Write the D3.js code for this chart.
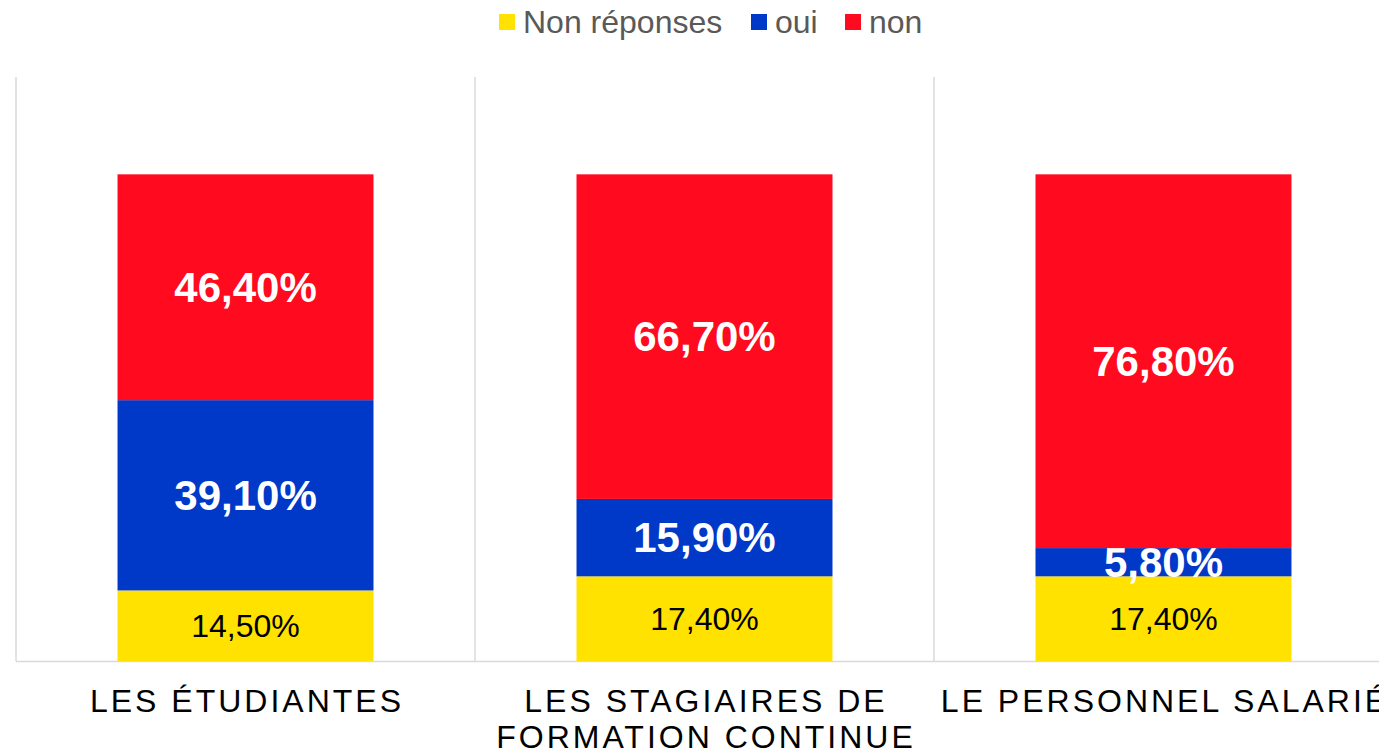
<!DOCTYPE html>
<meta charset="utf-8">
<style>
body { margin: 0; background: #fff; }
svg { display: block; font-family: "Liberation Sans", Arial, sans-serif; }
.grid line { stroke: #d9d9d9; stroke-width: 1.5px; }
.legend text { font-size: 32px; fill: #595959; }
.cat text { font-size: 32px; fill: #000; letter-spacing: 3px; }
</style>
<body>
<script src="https://d3js.org/d3.v7.min.js"></script>
<script>

var categories = ["LES ÉTUDIANTES", "LES STAGIAIRES DE FORMATION CONTINUE", "LE PERSONNEL SALARIÉ"];
var catLines = [["LES ÉTUDIANTES"], ["LES STAGIAIRES DE", "FORMATION CONTINUE"], ["LE PERSONNEL SALARIÉ"]];
var seriesNames = ["Non réponses", "oui", "non"];
var nonReponses = [0.145, 0.174, 0.174];
var oui = [0.391, 0.159, 0.058];
var non = [0.464, 0.667, 0.768];
var colors = ["#ffe200", "#0038c8", "#ff0a1e"];

var width = 1379, height = 751;
var plotLeft = 16, plotRight = 1393, plotTop = 77, plotBottom = 661;

var svg = d3.select("body").append("svg")
    .attr("width", width)
    .attr("height", height);

var x = d3.scaleBand()
    .domain(categories)
    .range([plotLeft, plotRight])
    .paddingInner(0.4423)
    .paddingOuter(0.2212);

var y = d3.scaleLinear()
    .domain([0, 1.2])
    .range([plotBottom, plotTop]);

var step = x.step();

// vertical separators between categories
var grid = svg.append("g").attr("class", "grid");
grid.selectAll("line.v")
  .data(categories)
  .enter().append("line")
    .attr("class", "v")
    .attr("x1", function(d) { return x(d) - x.paddingOuter() * step; })
    .attr("x2", function(d) { return x(d) - x.paddingOuter() * step; })
    .attr("y1", plotTop)
    .attr("y2", plotBottom);

var rows = categories.map(function(c, i) {
  return { cat: c, "Non réponses": nonReponses[i], "oui": oui[i], "non": non[i] };
});

var stack = d3.stack().keys(seriesNames)(rows);

var layer = svg.append("g").selectAll("g")
  .data(stack)
  .enter().append("g")
    .attr("fill", function(d, i) { return colors[i]; });

layer.selectAll("rect")
  .data(function(d) { return d; })
  .enter().append("rect")
    .attr("x", function(d) { return x(d.data.cat); })
    .attr("width", x.bandwidth())
    .attr("y", function(d) { return y(d[1]); })
    .attr("height", function(d) { return y(d[0]) - y(d[1]); });

var fmt = function(v) { return (v * 100).toFixed(2).replace(".", ",") + "%"; };

layer.each(function(s, si) {
  d3.select(this).selectAll("text")
    .data(s)
    .enter().append("text")
      .attr("x", function(d) { return x(d.data.cat) + x.bandwidth() / 2; })
      .attr("y", function(d) { return (y(d[0]) + y(d[1])) / 2; })
      .attr("text-anchor", "middle")
      .attr("dominant-baseline", "central")
      .attr("fill", si === 0 ? "#000" : "#fff")
      .attr("font-size", si === 0 ? 32 : 42)
      .attr("font-weight", si === 0 ? "normal" : "bold")
      .text(function(d) { return fmt(d[1] - d[0]); });
});

// baseline
grid.append("line")
    .attr("x1", plotLeft)
    .attr("x2", width)
    .attr("y1", plotBottom + 0.5)
    .attr("y2", plotBottom + 0.5);

// category labels
var cat = svg.append("g").attr("class", "cat");
cat.selectAll("text")
  .data(categories)
  .enter().append("text")
    .attr("x", function(d) { return x(d) + x.bandwidth() / 2 + 1.5; })
    .attr("y", 712)
    .attr("text-anchor", "middle")
    .each(function(d, i) {
      var t = d3.select(this);
      catLines[i].forEach(function(line, j) {
        t.append("tspan")
          .attr("x", t.attr("x"))
          .attr("dy", j === 0 ? 0 : 36)
          .text(line);
      });
    });

// legend
var legendX = [499, 751, 845];
var legend = svg.append("g").attr("class", "legend");
var item = legend.selectAll("g")
  .data(seriesNames)
  .enter().append("g")
    .attr("transform", function(d, i) { return "translate(" + legendX[i] + ",0)"; });
item.append("rect")
    .attr("y", 14)
    .attr("width", 16)
    .attr("height", 16)
    .attr("fill", function(d, i) { return colors[i]; });
item.append("text")
    .attr("x", 24)
    .attr("y", 33)
    .text(function(d) { return d; });

</script>
</body>
